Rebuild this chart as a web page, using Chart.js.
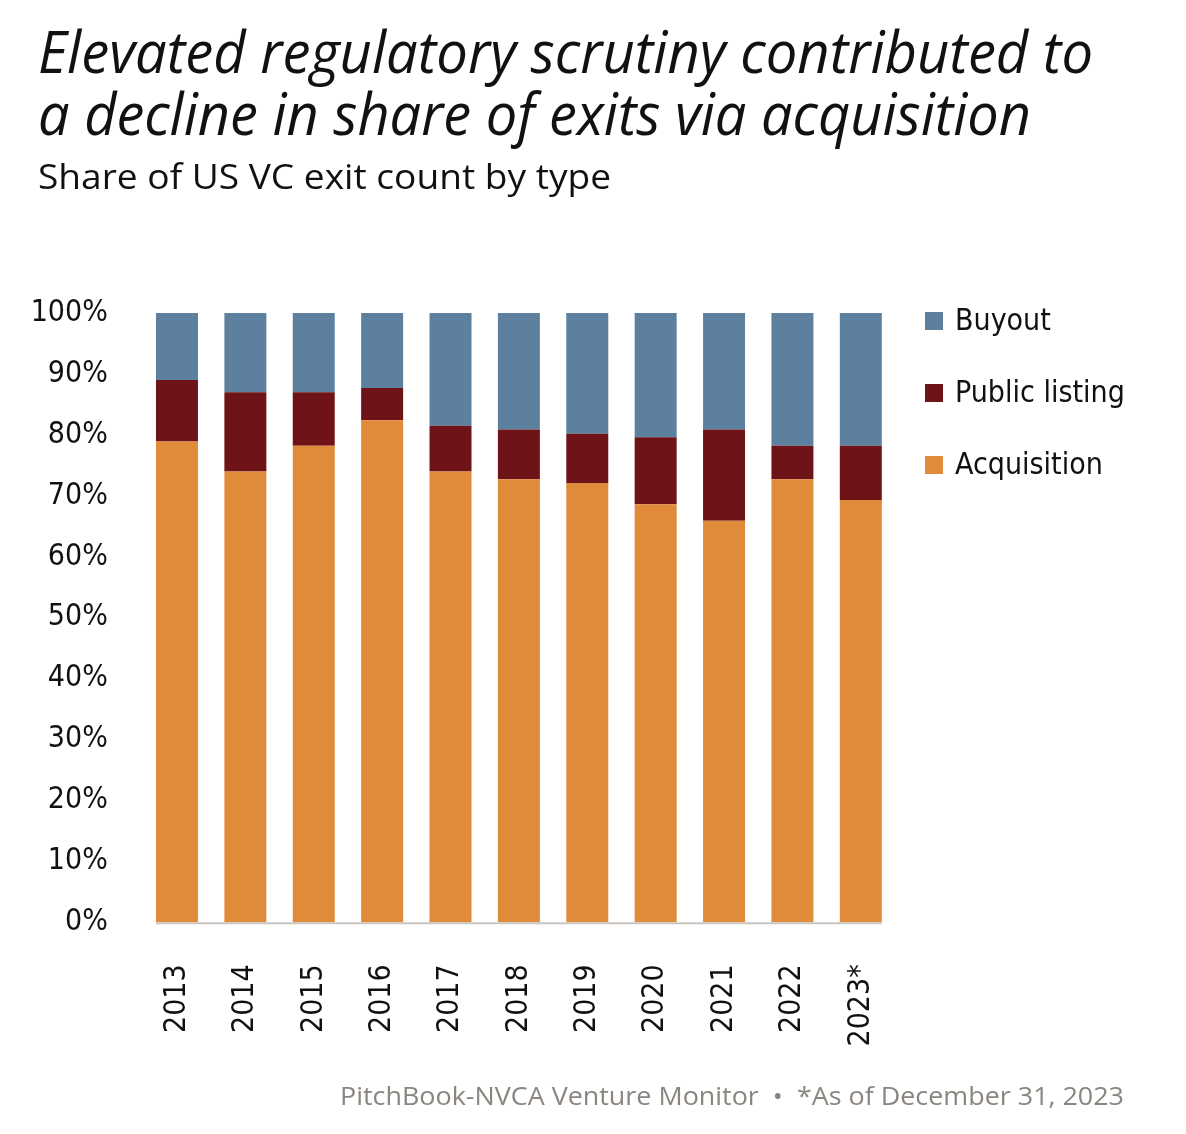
<!DOCTYPE html>
<html>
<head>
<meta charset="utf-8">
<script src="https://cdn.jsdelivr.net/npm/chart.js@4.4.1/dist/chart.umd.min.js"></script>
<style>
  html, body { margin:0; padding:0; background:#fff; }
  #wrap { position:relative; width:1186px; height:1134px; overflow:hidden; }
  #chartBox { position:absolute; left:0; top:0; width:1186px; height:1134px; }
  .t { position:absolute; white-space:pre; transform-origin:0 0; color:#111; }
  #title1, #title2 { font-family:"Open Sans", "DejaVu Sans Condensed", sans-serif; font-style:italic; font-size:58px; line-height:1; }
  #sub { font-family:"Open Sans", "DejaVu Sans Condensed", sans-serif; font-size:35px; line-height:1; }
  #foot { font-family:"Open Sans", "DejaVu Sans", sans-serif; font-size:26px; color:#8a857f; line-height:1; }
</style>
</head>
<body>
<div id="wrap">
  <div id="chartBox"><canvas id="c"></canvas></div>
  <div class="t" id="title1" data-w="1055" style="left:38px; top:22px;">Elevated regulatory scrutiny contributed to</div>
  <div class="t" id="title2" data-w="993" style="left:38px; top:84px;">a decline in share of exits via acquisition</div>
  <div class="t" id="sub" data-w="573" style="left:38px; top:158px;">Share of US VC exit count by type</div>
  <div class="t" id="foot" data-w="784" style="left:340px; top:1082px;">PitchBook-NVCA Venture Monitor  •  *As of December 31, 2023</div>
</div>
<script>
const categories = ["2013","2014","2015","2016","2017","2018","2019","2020","2021","2022","2023*"];
const acquisition = [78.9, 74.0, 78.2, 82.4, 74.0, 72.7, 72.1, 68.6, 65.9, 72.7, 69.3];
const publicListing = [10.1, 13.0, 8.8, 5.3, 7.5, 8.2, 8.1, 11.0, 15.0, 5.5, 8.9];
const buyout = [11.0, 13.0, 13.0, 12.3, 18.5, 19.1, 19.8, 20.4, 19.1, 21.8, 21.8];
const yTicks = [0,10,20,30,40,50,60,70,80,90,100];

const COLORS = { acq:"#E08B39", pub:"#6E1418", buy:"#5E809F" };
const FONT_FAMILY = "'DejaVu Sans Condensed', 'Liberation Sans Narrow', sans-serif";
const TICK_FONT = { family:FONT_FAMILY, size:30 };

// scale HTML texts horizontally to their target widths
document.querySelectorAll('.t').forEach(el => {
  const w = el.getBoundingClientRect().width;
  const target = +el.dataset.w;
  if (w > 0) el.style.transform = 'scaleX(' + (target / w) + ')';
});

const baselinePlugin = {
  id:'baseline',
  afterDatasetsDraw(chart) {
    const meta = chart.getDatasetMeta(0);
    if (!meta.data.length) return;
    const first = meta.data[0], last = meta.data[meta.data.length-1];
    const y0 = chart.scales.y.getPixelForValue(0);
    const ctx = chart.ctx;
    ctx.save();
    ctx.strokeStyle = '#c9c5be';
    ctx.lineWidth = 2;
    ctx.beginPath();
    ctx.moveTo(first.x - first.width/2, y0 + 1);
    ctx.lineTo(last.x + last.width/2, y0 + 1);
    ctx.stroke();
    ctx.restore();
  }
};

const legendPlugin = {
  id:'customLegend',
  afterDraw(chart) {
    const ctx = chart.ctx;
    const ds = chart.data.datasets.slice().reverse();
    ctx.save();
    ctx.font = "30px " + FONT_FAMILY;
    ctx.textBaseline = 'middle';
    ds.forEach((d, i) => {
      const cy = 321 + i * 72;
      ctx.fillStyle = d.backgroundColor;
      ctx.fillRect(925, cy - 9, 18, 18);
      ctx.fillStyle = '#111';
      ctx.fillText(d.label, 955, cy + 1);
    });
    ctx.restore();
  }
};

new Chart(document.getElementById('c'), {
  type:'bar',
  data:{
    labels: categories,
    datasets:[
      { label:'Acquisition', data: acquisition, backgroundColor: COLORS.acq },
      { label:'Public listing', data: publicListing, backgroundColor: COLORS.pub },
      { label:'Buyout', data: buyout, backgroundColor: COLORS.buy }
    ]
  },
  options:{
    responsive:true,
    maintainAspectRatio:false,
    animation:false,
    layout:{ padding:{ top:313, right:291, left:0, bottom:0 } },
    datasets:{ bar:{ categoryPercentage:1, barPercentage:0.614, borderWidth:0 } },
    plugins:{ legend:{ display:false }, tooltip:{ enabled:false } },
    scales:{
      x:{
        stacked:true,
        grid:{ display:false, drawTicks:false },
        border:{ display:false },
        ticks:{ color:'#111', font:TICK_FONT, minRotation:90, maxRotation:90, padding:42, autoSkip:false },
        afterFit(s){ s.height = 211.7; }
      },
      y:{
        stacked:true,
        min:0, max:100,
        afterBuildTicks(s){ s.ticks = yTicks.map(v => ({ value:v })); },
        grid:{ display:false, drawTicks:false },
        border:{ display:false },
        ticks:{ color:'#111', font:TICK_FONT, padding:35, callback:(v)=> v + '%' },
        afterFit(s){ s.width = 142.8; }
      }
    }
  },
  plugins:[baselinePlugin, legendPlugin]
});
</script>
</body>
</html>
